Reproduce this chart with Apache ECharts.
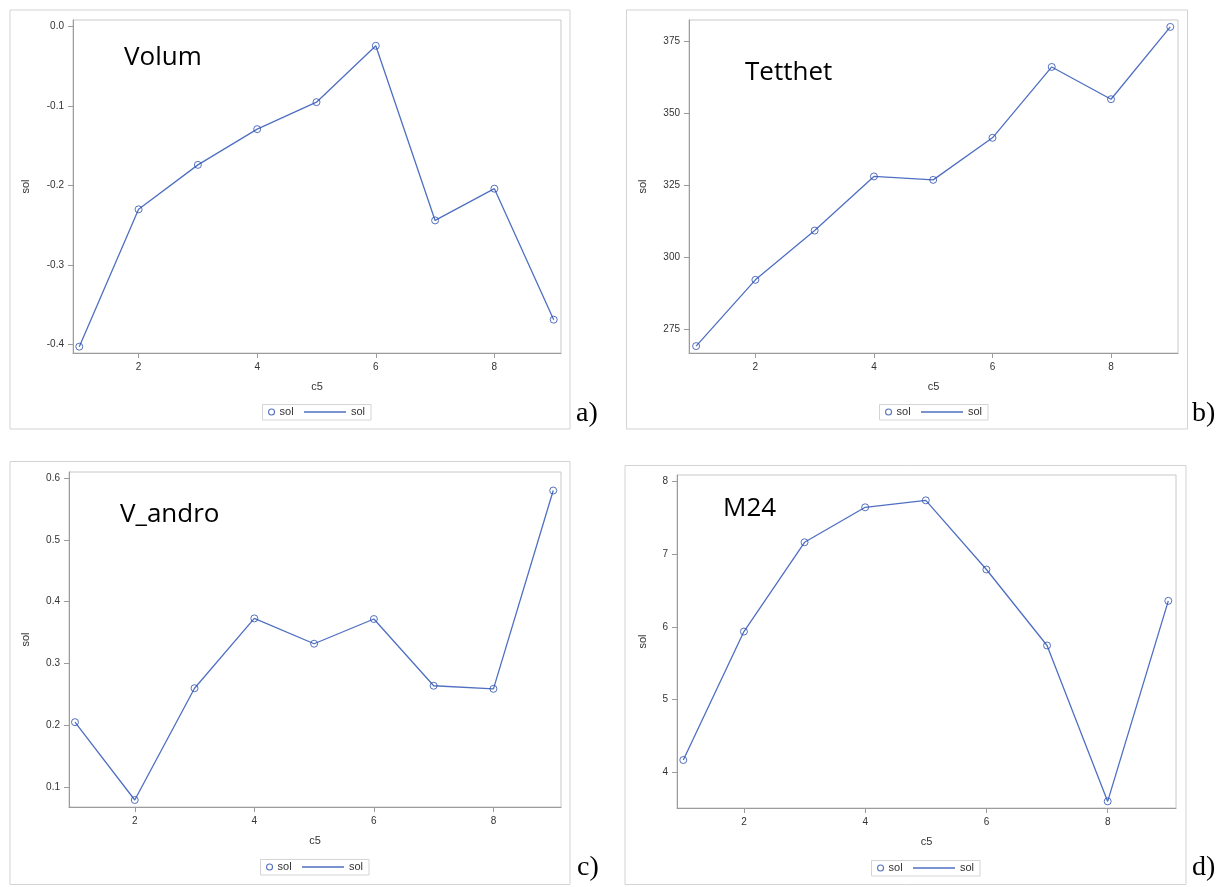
<!DOCTYPE html>
<html>
<head>
<meta charset="utf-8">
<script src="https://cdn.jsdelivr.net/npm/echarts@6/dist/echarts.min.js"></script>
<style>
html,body{margin:0;padding:0;background:#fff;}
#chart{width:1228px;height:887px;}
</style>
</head>
<body>
<div id="chart"></div>
<script>
// ---- data ----
const xValues = [1, 2, 3, 4, 5, 6, 7, 8, 9];
const xTicks = [2, 4, 6, 8];

const volum   = [-0.403, -0.230, -0.174, -0.129, -0.095, -0.024, -0.244, -0.204, -0.369];
const tetthet = [269.3, 292.3, 309.4, 328.2, 327.0, 341.6, 366.2, 355.0, 380.1];
const vAndro  = [0.205, 0.079, 0.260, 0.373, 0.332, 0.372, 0.264, 0.259, 0.580];
const m24     = [4.165, 5.935, 7.165, 7.647, 7.743, 6.790, 5.743, 3.595, 6.358];

const volumTicks   = [-0.4, -0.3, -0.2, -0.1, 0.0];
const tetthetTicks = [275, 300, 325, 350, 375];
const vAndroTicks  = [0.1, 0.2, 0.3, 0.4, 0.5, 0.6];
const m24Ticks     = [4, 5, 6, 7, 8];

const panelTitles = ['Volum', 'Tetthet', 'V_andro', 'M24'];
const panelLetters = ['a)', 'b)', 'c)', 'd)'];
const seriesName = 'sol';
const xName = 'c5';

// ---- layout ----
const LINE = '#4f6fc2';
const MARK = '#2c4fae';
const TXT = '#333333';
const AXIS = '#9c9c9c';

const panels = [
  { key:'a', vals: volum,   ticks: volumTicks,   dec:1, grid:{left:73, top:20, width:488, height:333},
    xr:[0.894, 9.123], yr:[-0.411, 0.0085], frame:[10,10,560,419], yGap:42,
    title:[124, 58], letter:[576, 428], legend:{x:262.5, y:404.5} },
  { key:'b', vals: tetthet, ticks: tetthetTicks, dec:0, grid:{left:689, top:20, width:489, height:333},
    xr:[0.88, 9.13], yr:[266.9, 382.5], frame:[626.5,10,561,419], yGap:40.5,
    title:[745, 73], letter:[1192, 428], legend:{x:879.5, y:404.5} },
  { key:'c', vals: vAndro,  ticks: vAndroTicks,  dec:1, grid:{left:69, top:472, width:492, height:335},
    xr:[0.9, 9.13], yr:[0.0677, 0.610], frame:[10,461.5,560,423], yGap:38,
    title:[120, 515], letter:[577, 882], legend:{x:260.5, y:859.5} },
  { key:'d', vals: m24,     ticks: m24Ticks,     dec:0, grid:{left:677, top:475, width:499, height:333},
    xr:[0.896, 9.127], yr:[3.504, 8.092], frame:[625,465.5,561,419], yGap:29,
    title:[723, 509], letter:[1192, 882], legend:{x:871.5, y:860.5} }
];

const grids = [], xAxes = [], yAxes = [], series = [], legends = [], graphics = [];

panels.forEach((p, i) => {
  grids.push(Object.assign({ show:true, borderColor:'#c8c8c8', borderWidth:1, backgroundColor:'transparent' }, p.grid));
  xAxes.push({
    type:'value', gridIndex:i, min:p.xr[0], max:p.xr[1],
    name:xName, nameLocation:'middle', nameGap:28,
    nameTextStyle:{ color:TXT, fontSize:11, fontFamily:'Liberation Sans' },
    axisLine:{ show:true, onZero:false, lineStyle:{ color:AXIS, width:1 } },
    axisTick:{ show:true, length:5, customValues:xTicks, lineStyle:{ color:AXIS } },
    axisLabel:{ customValues:xTicks, color:TXT, fontSize:10, fontFamily:'Liberation Sans', margin:9 },
    splitLine:{ show:false }
  });
  yAxes.push({
    type:'value', gridIndex:i, min:p.yr[0], max:p.yr[1],
    name:seriesName, nameLocation:'middle', nameGap:p.yGap,
    nameTextStyle:{ color:TXT, fontSize:11, fontFamily:'Liberation Sans' },
    axisLine:{ show:true, onZero:false, lineStyle:{ color:AXIS, width:1 } },
    axisTick:{ show:true, length:5, customValues:p.ticks, lineStyle:{ color:AXIS } },
    axisLabel:{ customValues:p.ticks, color:TXT, fontSize:10, fontFamily:'Liberation Sans', margin:9,
      formatter: v => Number(v).toFixed(p.dec) },
    splitLine:{ show:false }
  });
  const pts = xValues.map((x, j) => [x, p.vals[j]]);
  series.push({
    type:'line', name:p.key + '_ln', xAxisIndex:i, yAxisIndex:i, data:pts,
    symbol:'none', lineStyle:{ color:LINE, width:1.3 }, itemStyle:{ color:LINE }, z:2, silent:true
  });
  series.push({
    type:'scatter', name:p.key + '_pt', xAxisIndex:i, yAxisIndex:i, data:pts,
    symbol:'circle', symbolSize:7,
    itemStyle:{ color:'rgba(255,255,255,0)', borderColor:MARK, borderWidth:1 }, z:3, silent:true
  });
  const lg = p.legend;
  legends.push({
    data:[{ name:p.key + '_pt', icon:'circle', itemStyle:{ color:'rgba(255,255,255,0)', borderColor:MARK, borderWidth:1.1 } }],
    left:lg.x + 5.5, top:lg.y + 2, padding:0,
    itemWidth:6, itemHeight:6, selectedMode:false, formatter:() => seriesName,
    textStyle:{ color:TXT, fontSize:11, fontFamily:'Liberation Sans' }
  });
  legends.push({
    data:[{ name:p.key + '_ln', icon:'rect', itemStyle:{ color:LINE, borderWidth:0 } }],
    left:lg.x + 41.5, top:lg.y + 2, padding:0,
    itemWidth:42, itemHeight:1.3, selectedMode:false, formatter:() => seriesName,
    textStyle:{ color:TXT, fontSize:11, fontFamily:'Liberation Sans' }
  });
  graphics.push({ type:'rect', shape:{ x:lg.x, y:lg.y, width:108.5, height:15.5 },
    style:{ fill:'none', stroke:'#d4d4d4', lineWidth:1 }, silent:true, z:0 });
  graphics.push({ type:'rect', shape:{ x:p.frame[0], y:p.frame[1], width:p.frame[2], height:p.frame[3] },
    style:{ fill:'none', stroke:'#d3d3d3', lineWidth:1 }, silent:true, z:0 });
  graphics.push({ type:'text', x:p.title[0], y:p.title[1],
    style:{ text:panelTitles[i], fill:'#000', font:'26px "Open Sans"', textVerticalAlign:'middle', verticalAlign:'middle' },
    silent:true, z:5 });
  graphics.push({ type:'text', x:p.letter[0], y:p.letter[1],
    style:{ text:panelLetters[i], fill:'#000', font:'28px "Liberation Serif"', verticalAlign:'bottom' },
    silent:true, z:5 });
});

const chart = echarts.init(document.getElementById('chart'), null, { renderer:'canvas' });
chart.setOption({
  animation:false,
  backgroundColor:'#fff',
  grid:grids, xAxis:xAxes, yAxis:yAxes, series:series, legend:legends, graphic:graphics
});
</script>
</body>
</html>
